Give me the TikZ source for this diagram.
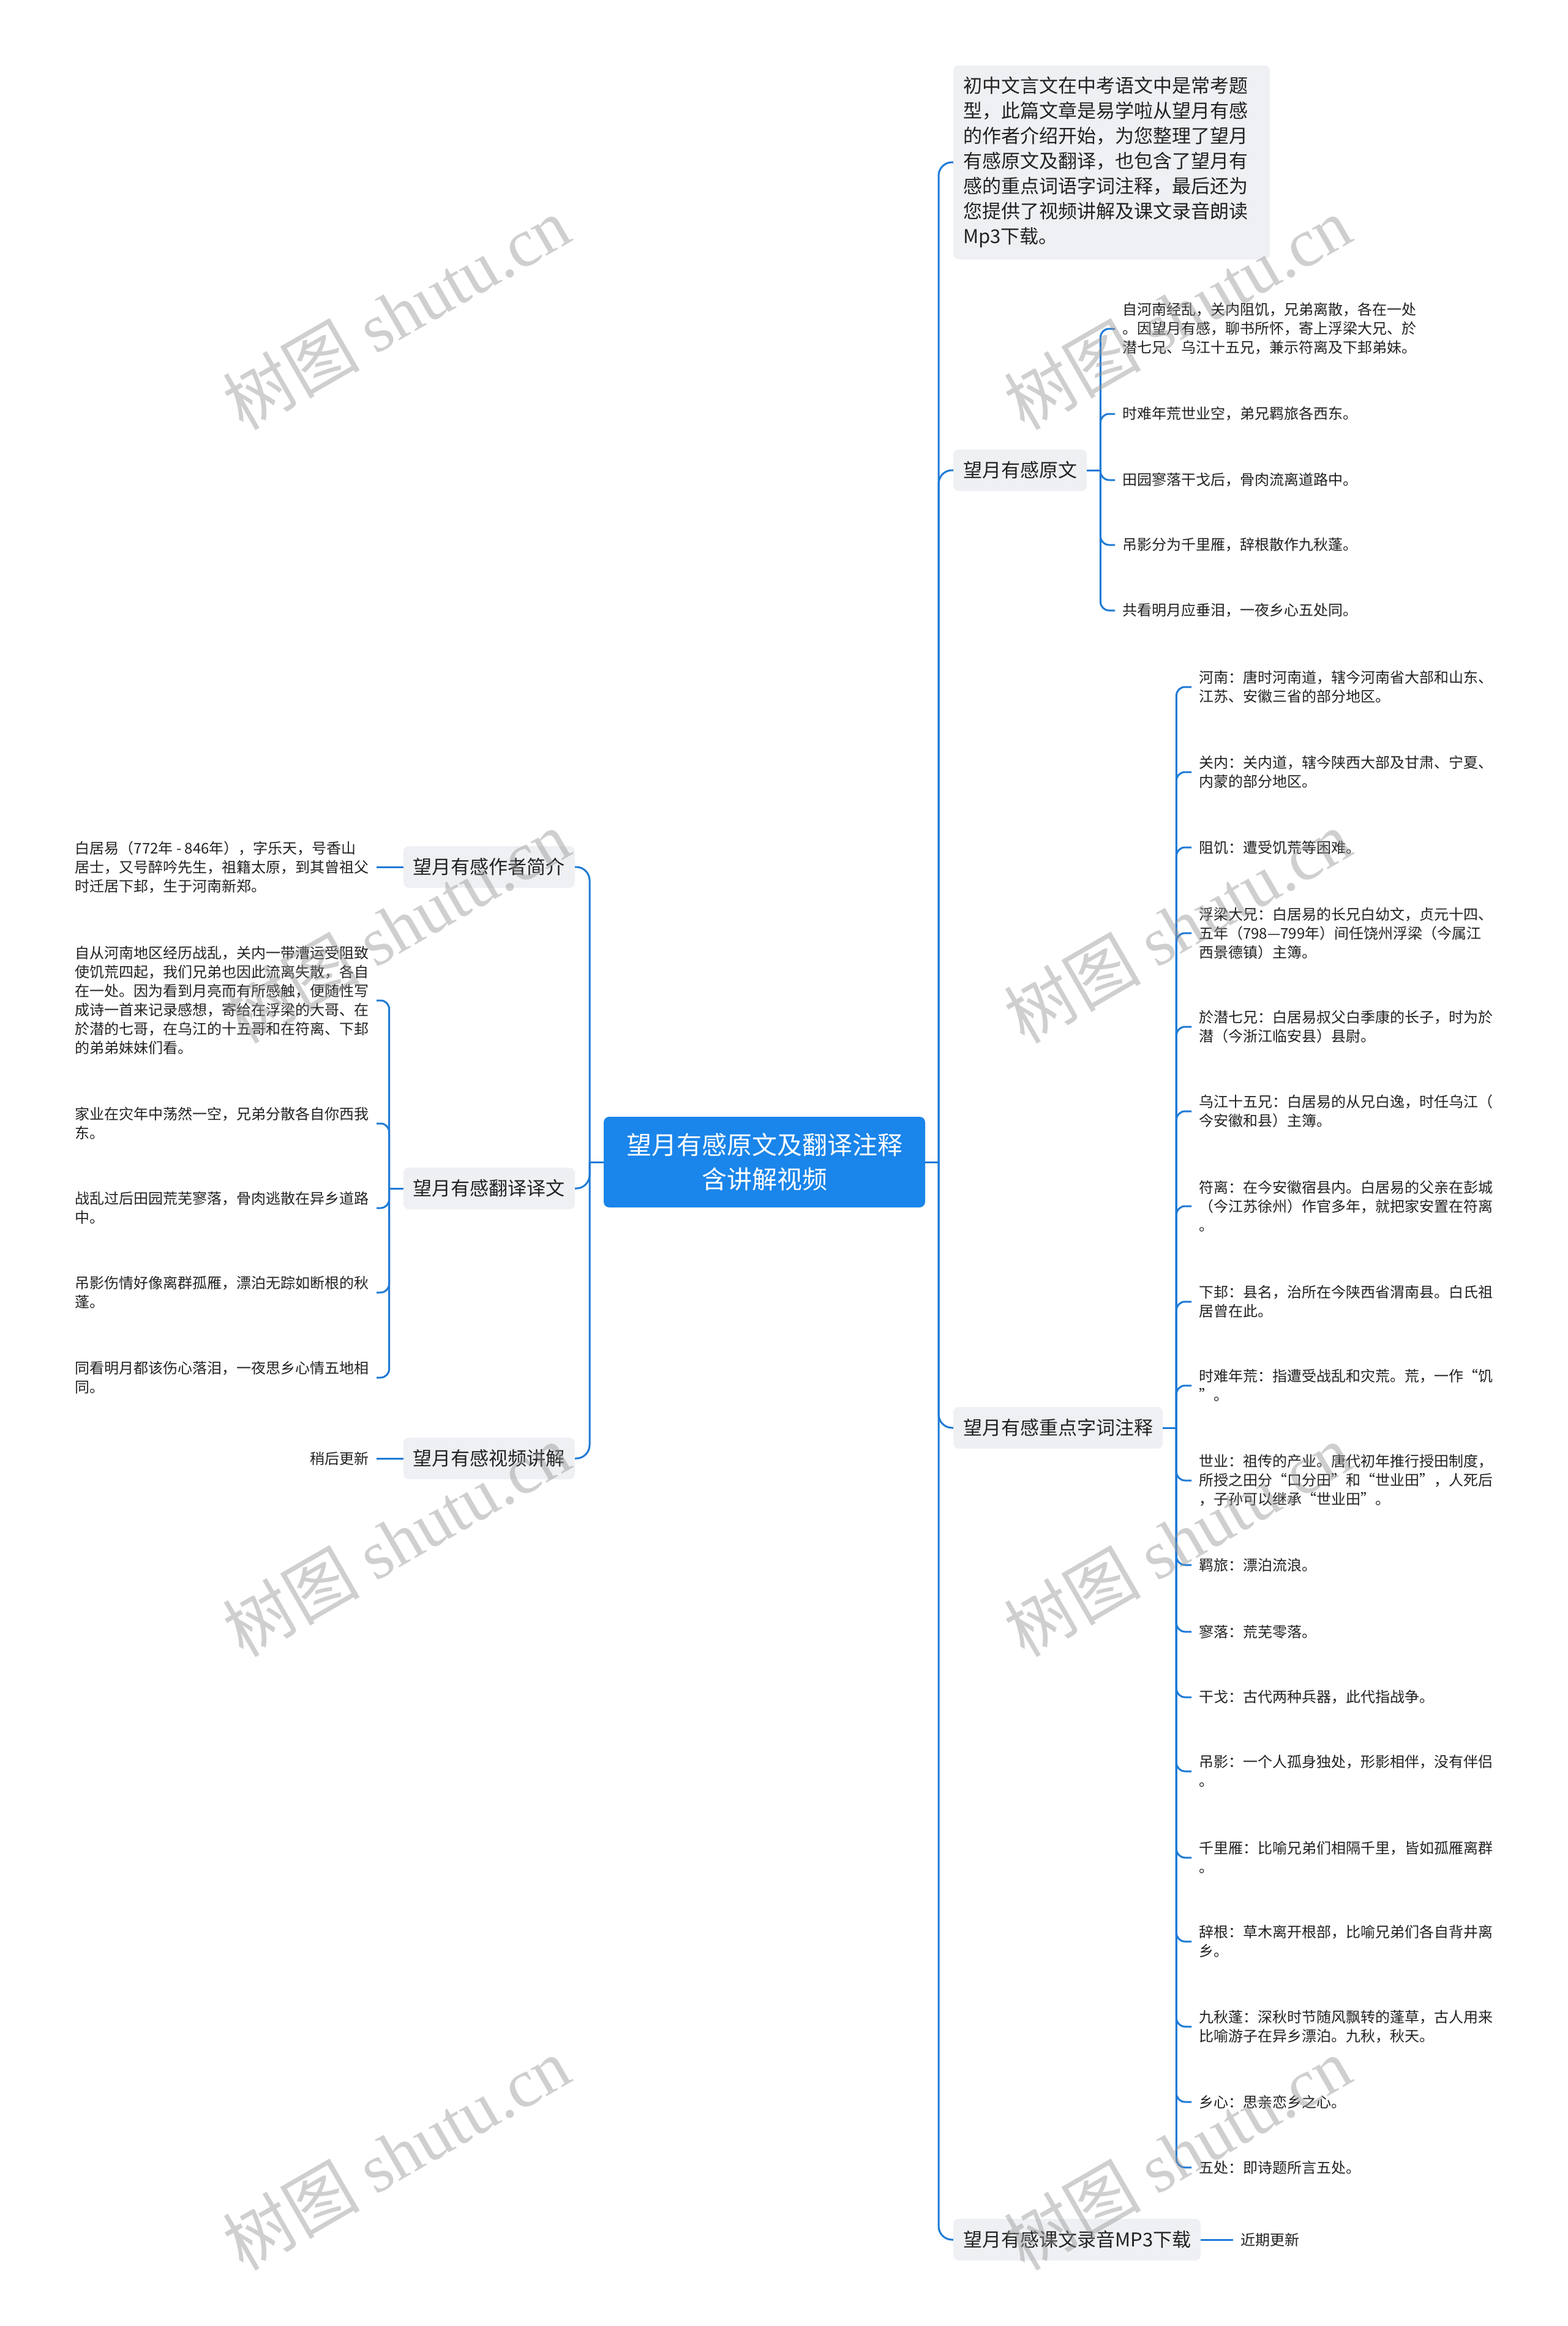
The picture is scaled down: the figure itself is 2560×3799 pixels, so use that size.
\documentclass[tikz,border=0pt]{standalone}
\usepackage{fontspec}
\setmainfont{Noto Sans CJK SC}
\newfontfamily\wmlat{Liberation Serif}
\definecolor{lineblue}{RGB}{30,122,214}
\definecolor{rootblue}{RGB}{26,133,234}
\definecolor{topicgray}{RGB}{238,240,243}
\definecolor{txt}{RGB}{34,34,34}
\definecolor{wmgray}{RGB}{150,150,150}
\begin{document}
\begin{tikzpicture}[x=1pt,y=-1pt,
  rootnode/.style={rectangle, rounded corners=9pt, fill=rootblue, text=white, align=center,
    font=\fontsize{41}{56}\selectfont, minimum width=525pt, minimum height=148pt, inner sep=0pt},
  topic/.style={rectangle, rounded corners=9pt, fill=topicgray, text=txt,
    font=\fontsize{31}{40}\selectfont, inner xsep=16pt, inner ysep=0pt, minimum height=68pt},
  introbox/.style={rectangle, rounded corners=9pt, fill=topicgray, text=txt, align=left,
    font=\fontsize{31}{41}\selectfont, text width=485pt, inner xsep=16pt, minimum height=317pt},
  leaf/.style={text=txt, align=left, font=\fontsize{24}{31}\selectfont, inner xsep=12pt, inner ysep=0pt},
  link/.style={draw=lineblue, line width=3pt, rounded corners=14pt},
  trunk/.style={link, rounded corners=22pt},
  wmark/.style={rotate=30, text=wmgray, opacity=0.45, font=\fontsize{112}{112}\selectfont}
]
\fill[white] (0,0) rectangle (2560,3799);
\useasboundingbox (0,0) rectangle (2560,3799);

% root
\node[rootnode] (root) at (1248.5,1898) {望月有感原文及翻译注释\\含讲解视频};

% right main topics
\node[introbox, anchor=west] (intro) at (1557,265) {初中文言文在中考语文中是常考题\\型，此篇文章是易学啦从望月有感\\的作者介绍开始，为您整理了望月\\有感原文及翻译，也包含了望月有\\感的重点词语字词注释，最后还为\\您提供了视频讲解及课文录音朗读\\Mp3下载。};
\node[topic, anchor=west] (yuanwen) at (1557,768) {望月有感原文};
\node[topic, anchor=west] (zhushi) at (1557,2332) {望月有感重点字词注释};
\node[topic, anchor=west] (mp3) at (1557,3658) {望月有感课文录音MP3下载};

% left main topics
\node[topic, anchor=east] (author) at (939,1416) {望月有感作者简介};
\node[topic, anchor=east] (fanyi) at (939,1941) {望月有感翻译译文};
\node[topic, anchor=east] (video) at (939,2382) {望月有感视频讲解};

% 原文 leaves
\node[leaf, anchor=west] (r1) at (1821,537) {自河南经乱，关内阻饥，兄弟离散，各在一处\\。因望月有感，聊书所怀，寄上浮梁大兄、於\\潜七兄、乌江十五兄，兼示符离及下邽弟妹。};
\node[leaf, anchor=west] (r2) at (1821,676) {时难年荒世业空，弟兄羁旅各西东。};
\node[leaf, anchor=west] (r3) at (1821,784) {田园寥落干戈后，骨肉流离道路中。};
\node[leaf, anchor=west] (r4) at (1821,890) {吊影分为千里雁，辞根散作九秋蓬。};
\node[leaf, anchor=west] (r5) at (1821,997) {共看明月应垂泪，一夜乡心五处同。};

% 注释 leaves
\node[leaf, anchor=west] (n1) at (1946,1122) {河南：唐时河南道，辖今河南省大部和山东、\\江苏、安徽三省的部分地区。};
\node[leaf, anchor=west] (n2) at (1946,1261) {关内：关内道，辖今陕西大部及甘肃、宁夏、\\内蒙的部分地区。};
\node[leaf, anchor=west] (n3) at (1946,1384) {阻饥：遭受饥荒等困难。};
\node[leaf, anchor=west] (n4) at (1946,1524) {浮梁大兄：白居易的长兄白幼文，贞元十四、\\五年（798—799年）间任饶州浮梁（今属江\\西景德镇）主簿。};
\node[leaf, anchor=west] (n5) at (1946,1677) {於潜七兄：白居易叔父白季康的长子，时为於\\潜（今浙江临安县）县尉。};
\node[leaf, anchor=west] (n6) at (1946,1815) {乌江十五兄：白居易的从兄白逸，时任乌江（\\今安徽和县）主簿。};
\node[leaf, anchor=west] (n7) at (1946,1970) {符离：在今安徽宿县内。白居易的父亲在彭城\\（今江苏徐州）作官多年，就把家安置在符离\\。};
\node[leaf, anchor=west] (n8) at (1946,2126) {下邽：县名，治所在今陕西省渭南县。白氏祖\\居曾在此。};
\node[leaf, anchor=west] (n9) at (1946,2263) {时难年荒：指遭受战乱和灾荒。荒，一作“饥\\”。};
\node[leaf, anchor=west] (n10) at (1946,2418) {世业：祖传的产业。唐代初年推行授田制度，\\所授之田分“口分田”和“世业田”，人死后\\，子孙可以继承“世业田”。};
\node[leaf, anchor=west] (n11) at (1946,2556) {羁旅：漂泊流浪。};
\node[leaf, anchor=west] (n12) at (1946,2665) {寥落：荒芜零落。};
\node[leaf, anchor=west] (n13) at (1946,2772) {干戈：古代两种兵器，此代指战争。};
\node[leaf, anchor=west] (n14) at (1946,2893) {吊影：一个人孤身独处，形影相伴，没有伴侣\\。};
\node[leaf, anchor=west] (n15) at (1946,3034) {千里雁：比喻兄弟们相隔千里，皆如孤雁离群\\。};
\node[leaf, anchor=west] (n16) at (1946,3171) {辞根：草木离开根部，比喻兄弟们各自背井离\\乡。};
\node[leaf, anchor=west] (n17) at (1946,3310) {九秋蓬：深秋时节随风飘转的蓬草，古人用来\\比喻游子在异乡漂泊。九秋，秋天。};
\node[leaf, anchor=west] (n18) at (1946,3433) {乡心：思亲恋乡之心。};
\node[leaf, anchor=west] (n19) at (1946,3540) {五处：即诗题所言五处。};

% MP3 leaf
\node[leaf, anchor=west] (m1) at (2014,3658) {近期更新};

% left leaves
\node[leaf, anchor=east] (a1) at (615,1416) {白居易（772年 - 846年），字乐天，号香山\\居士，又号醉吟先生，祖籍太原，到其曾祖父\\时迁居下邽，生于河南新郑。};
\node[leaf, anchor=east] (f1) at (615,1634) {自从河南地区经历战乱，关内一带漕运受阻致\\使饥荒四起，我们兄弟也因此流离失散，各自\\在一处。因为看到月亮而有所感触，便随性写\\成诗一首来记录感想，寄给在浮梁的大哥、在\\於潜的七哥，在乌江的十五哥和在符离、下邽\\的弟弟妹妹们看。};
\node[leaf, anchor=east] (f2) at (615,1835) {家业在灾年中荡然一空，兄弟分散各自你西我\\东。};
\node[leaf, anchor=east] (f3) at (615,1973) {战乱过后田园荒芜寥落，骨肉逃散在异乡道路\\中。};
\node[leaf, anchor=east] (f4) at (615,2111) {吊影伤情好像离群孤雁，漂泊无踪如断根的秋\\蓬。};
\node[leaf, anchor=east] (f5) at (615,2250) {同看明月都该伤心落泪，一夜思乡心情五地相\\同。};
\node[leaf, anchor=east] (v1) at (615,2382) {稍后更新};

% junctions
\coordinate (jR) at (1533,1898);
\coordinate (jL) at (963,1898);
\coordinate (jY) at ([xshift=22pt]yuanwen.east);
\coordinate (jZ) at ([xshift=22pt]zhushi.east);
\coordinate (jF) at ([xshift=-23pt]fanyi.west);

% trunk connectors
\draw[trunk] (root.east) -- (jR);
\draw[trunk] (root.west) -- (jL);
\foreach \n in {intro,yuanwen,zhushi,mp3} \draw[trunk] (jR) |- (\n.west);
\foreach \n in {author,fanyi,video} \draw[trunk] (jL) |- (\n.east);

% level 2 connectors
\draw[link] (yuanwen.east) -- (jY);
\foreach \n in {r1,r2,r3,r4,r5} \draw[link] (jY) |- (\n.west);
\draw[link] (zhushi.east) -- (jZ);
\foreach \n in {n1,n2,n3,n4,n5,n6,n7,n8,n9,n10,n11,n12,n13,n14,n15,n16,n17,n18,n19} \draw[link] (jZ) |- (\n.west);
\draw[link] (fanyi.west) -- (jF);
\foreach \n in {f1,f2,f3,f4,f5} \draw[link] (jF) |- (\n.east);
\draw[link] (author.west) -- (a1.east);
\draw[link] (video.west) -- (v1.east);
\draw[link] (mp3.east) -- (m1.west);

% watermarks
\foreach \x in {647,1923} \foreach \y in {511,1513,2515,3517}
  \node[wmark] (wm-\x-\y) at (\x,\y) {树图 {\wmlat shutu.cn}};
\end{tikzpicture}
\end{document}
